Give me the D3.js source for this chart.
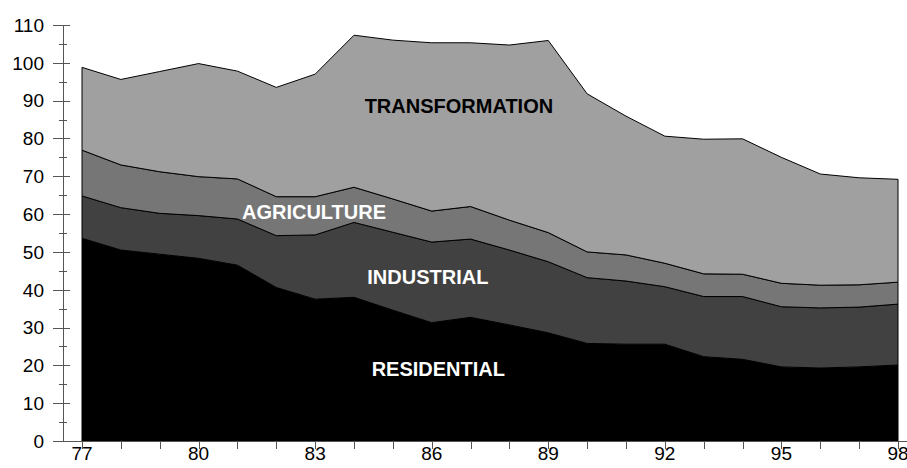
<!DOCTYPE html>
<html>
<head>
<meta charset="utf-8">
<script src="https://cdn.jsdelivr.net/npm/d3@7"></script>
<style>
  body { margin: 0; background: #fff; }
  text { font-family: "Liberation Sans", Arial, sans-serif; }
</style>
</head>
<body>
<svg id="chart" width="907" height="468"></svg>
<script>
// years 1977 - 1998
var years = d3.range(77, 99);
var residential = [53.6, 50.5, 49.4, 48.3, 46.5, 40.6, 37.5, 38.0, 34.6, 31.3, 32.7, 30.7, 28.6, 25.8, 25.6, 25.6, 22.3, 21.6, 19.6, 19.3, 19.6, 20.1];
var industrial = [11.2, 11.2, 10.8, 11.3, 12.2, 13.7, 17.0, 19.8, 20.6, 21.3, 20.7, 19.8, 18.8, 17.4, 16.7, 15.2, 15.9, 16.6, 15.9, 15.9, 15.8, 16.1];
var agriculture = [12.1, 11.3, 11.0, 10.3, 10.6, 10.3, 10.1, 9.3, 8.8, 8.2, 8.6, 7.9, 7.7, 6.8, 6.9, 6.2, 6.0, 5.9, 6.2, 6.0, 5.9, 5.8];
var transformation = [21.9, 22.6, 26.5, 29.9, 28.5, 28.9, 32.4, 40.2, 42.0, 44.5, 43.3, 46.3, 50.8, 41.8, 36.7, 33.6, 35.6, 35.8, 33.3, 29.4, 28.3, 27.2];

var seriesNames = ["residential", "industrial", "agriculture", "transformation"];
var seriesColors = ["#000000", "#414141", "#767676", "#a0a0a0"];
var labels = [
    {text: "TRANSFORMATION", year: 86.7, value: 86.7, color: "#000"},
    {text: "AGRICULTURE", year: 82.97, value: 58.6, color: "#fff"},
    {text: "INDUSTRIAL", year: 85.9, value: 41.4, color: "#fff"},
    {text: "RESIDENTIAL", year: 86.17, value: 17.3, color: "#fff"}
];
var yTicks = d3.range(0, 111, 10);
var yMinor = d3.range(5, 110, 10);
var xLabels = [77, 80, 83, 86, 89, 92, 95, 98];

var table = years.map(function(yr, i) {
    return {year: yr, residential: residential[i], industrial: industrial[i],
            agriculture: agriculture[i], transformation: transformation[i]};
});

var svg = d3.select("#chart");
var x = d3.scaleLinear().domain([77, 98]).range([82, 898]);
var y = d3.scaleLinear().domain([0, 110]).range([441, 25]);

var stack = d3.stack().keys(seriesNames);
var layers = stack(table);

var area = d3.area()
    .x(function(d) { return x(d.data.year); })
    .y0(function(d) { return y(d[0]); })
    .y1(function(d) { return y(d[1]); });

svg.selectAll("path.layer")
    .data(layers)
    .enter().append("path")
    .attr("class", "layer")
    .attr("d", area)
    .attr("fill", function(d, i) { return seriesColors[i]; })
    .attr("stroke", "#000")
    .attr("stroke-width", 1)
    .attr("stroke-linejoin", "round");

// axes
var axisColor = "#555";
svg.append("line").attr("x1", 63.5).attr("x2", 63.5).attr("y1", y(110)).attr("y2", y(0) + 0.5)
    .attr("stroke", axisColor);
svg.append("line").attr("x1", 53).attr("x2", 907).attr("y1", y(0) + 0.5).attr("y2", y(0) + 0.5)
    .attr("stroke", axisColor);

svg.selectAll("line.ymaj").data(yTicks).enter().append("line")
    .attr("x1", 53).attr("x2", 70)
    .attr("y1", function(d) { return Math.round(y(d)) + 0.5; })
    .attr("y2", function(d) { return Math.round(y(d)) + 0.5; })
    .attr("stroke", axisColor);
svg.selectAll("line.ymin").data(yMinor).enter().append("line")
    .attr("x1", 59).attr("x2", 67)
    .attr("y1", function(d) { return Math.round(y(d)) + 0.5; })
    .attr("y2", function(d) { return Math.round(y(d)) + 0.5; })
    .attr("stroke", axisColor);
svg.selectAll("text.ylab").data(yTicks).enter().append("text")
    .attr("x", 44).attr("y", function(d) { return y(d); })
    .attr("dy", "0.36em")
    .attr("text-anchor", "end")
    .attr("font-size", "19px")
    .text(function(d) { return d; });

svg.selectAll("line.xt").data(years).enter().append("line")
    .attr("x1", function(d) { return Math.round(x(d)) + 0.5; })
    .attr("x2", function(d) { return Math.round(x(d)) + 0.5; })
    .attr("y1", y(0)).attr("y2", y(0) + 8)
    .attr("stroke", axisColor);
svg.selectAll("text.xlab").data(xLabels).enter().append("text")
    .attr("x", function(d) { return x(d); }).attr("y", 460)
    .attr("text-anchor", "middle")
    .attr("font-size", "19px")
    .text(function(d) { return d; });

svg.selectAll("text.lab").data(labels).enter().append("text")
    .attr("x", function(d) { return x(d.year); })
    .attr("y", function(d) { return y(d.value); })
    .attr("text-anchor", "middle")
    .attr("font-size", "20px")
    .attr("font-weight", "bold")
    .attr("fill", function(d) { return d.color; })
    .text(function(d) { return d.text; });
</script>
</body>
</html>
